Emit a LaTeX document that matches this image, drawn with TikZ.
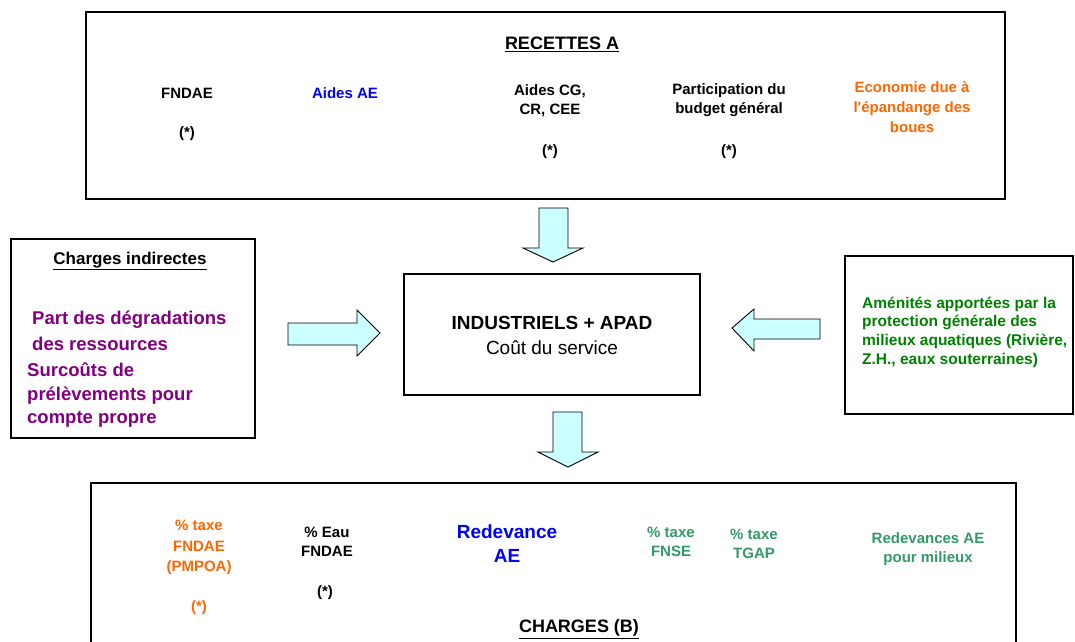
\documentclass[tikz,border=0pt]{standalone}
\usepackage{fontspec}
\setmainfont{Liberation Sans}
\definecolor{arrowfill}{HTML}{CCFFFF}
\definecolor{txtblue}{HTML}{0000FF}
\definecolor{txtorange}{HTML}{FF6600}
\definecolor{txtpurple}{HTML}{800080}
\definecolor{txtgreen}{HTML}{008000}
\definecolor{txtsea}{HTML}{339966}
\tikzset{
  box/.style={draw=black, line width=1.3pt},
  blockarrow/.style={draw=black, fill=arrowfill, line width=0.9pt, line join=miter},
  lbl/.style={inner sep=0pt, align=center, font=\bfseries\fontsize{15}{19}\selectfont},
  title/.style={inner sep=0pt, font=\bfseries\fontsize{18}{22}\selectfont},
}
\begin{document}
\begin{tikzpicture}[x=1pt,y=-1pt]
\useasboundingbox (0,0) rectangle (1075,641);
% boxes
\draw[box] (86,12) rectangle (1005,199);
\draw[box] (11,239) rectangle (255,438);
\draw[box] (404,274) rectangle (700,395);
\draw[box] (845,256) rectangle (1073,414);
\draw[box] (91,660) -- (91,483) -- (1016,483) -- (1016,660);
% block arrows
\draw[blockarrow] (539,208) -- (568,208) -- (568,248) -- (583,248) -- (553,262) -- (523,248) -- (539,248) -- cycle;
\draw[blockarrow] (553,412) -- (582,412) -- (582,452) -- (598,452) -- (568,467) -- (538,452) -- (553,452) -- cycle;
\draw[blockarrow] (288,323) -- (357,323) -- (357,310) -- (380,333) -- (357,356) -- (357,345) -- (288,345) -- cycle;
\draw[blockarrow] (820,319) -- (754,319) -- (754,309) -- (732,328) -- (754,351) -- (754,339) -- (820,339) -- cycle;
% top box texts
\node[title] (rec) at (562,44) {\underline{RECETTES A}};
\node[lbl] (fndae) at (187,93) {FNDAE};
\node[lbl] (fndaes) at (187,134) {(*)};
\node[lbl, text=txtblue] (aidesae) at (345,93) {Aides AE};
\node[lbl] (aidescg) at (550,100.5) {Aides CG,\\CR, CEE};
\node[lbl] (aidescgs) at (550,152) {(*)};
\node[lbl] (partic) at (729,100.5) {Participation du\\budget général};
\node[lbl] (partics) at (729,152) {(*)};
\node[lbl, text=txtorange, font=\bfseries\fontsize{15}{20}\selectfont] (eco) at (912,107) {Economie due à\\l\textquotesingle épandange des\\boues};
% left box
\node[inner sep=0pt, font=\bfseries\fontsize{17}{20}\selectfont] (chind) at (130,261) {\underline{Charges indirectes}};
\node[inner sep=0pt, anchor=west, align=left, text=txtpurple, font=\bfseries\fontsize{18.5}{26}\selectfont] (part) at (32,331) {Part des dégradations\\des ressources};
\node[inner sep=0pt, anchor=west, align=left, text=txtpurple, font=\bfseries\fontsize{18.5}{23.5}\selectfont] (surc) at (27,395.5) {Surcoûts de\\prélèvements pour\\compte propre};
% center box
\node[inner sep=0pt, align=center, font=\fontsize{19}{25}\selectfont] (indus) at (552,335) {\textbf{INDUSTRIELS + APAD}\\Coût du service};
% right box
\node[inner sep=0pt, anchor=west, align=left, text=txtgreen, font=\bfseries\fontsize{15.5}{18.7}\selectfont] (amen) at (862,332) {Aménités apportées par la\\protection générale des\\milieux aquatiques (Rivière,\\Z.H., eaux souterraines)};
% bottom box texts
\node[lbl, text=txtorange, font=\bfseries\fontsize{15}{20.5}\selectfont] (pmpoa) at (199,547.5) {\% taxe\\FNDAE\\(PMPOA)};
\node[lbl, text=txtorange] (pmpoas) at (199,608) {(*)};
\node[lbl] (eau) at (327,542) {\% Eau\\FNDAE};
\node[lbl] (eaus) at (325,593) {(*)};
\node[lbl, text=txtblue, font=\bfseries\fontsize{19}{24}\selectfont] (redev) at (507,544) {Redevance\\AE};
\node[lbl, text=txtsea] (fnse) at (671,542) {\% taxe\\FNSE};
\node[lbl, text=txtsea] (tgap) at (754,543.5) {\% taxe\\TGAP};
\node[lbl, text=txtsea] (milieux) at (928,549) {Redevances AE\\pour milieux};
\node[title] (charges) at (579,629) {\underline{CHARGES (B)}};
\end{tikzpicture}
\end{document}
